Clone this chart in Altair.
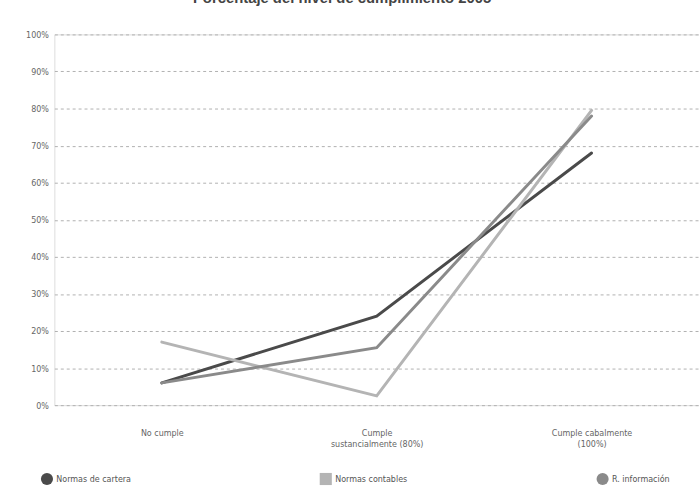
import altair as alt
import pandas as pd

# Compliance levels (x axis) and the share of entities in each level per rule set
niveles = ["No cumple", "Cumple\nsustancialmente (80%)", "Cumple cabalmente\n(100%)"]
series = ["Normas de cartera", "Normas contables", "R. información"]
normas_cartera = [6, 24, 68]
normas_contables = [17, 2.5, 79.5]
r_informacion = [6, 15.5, 78]

colores = ["#4a4a4a", "#b4b4b4", "#8a8a8a"]
formas = ["circle", "square", "circle"]
titulo = "Porcentaje del nivel de cumplimiento 2005"
fuente = "DejaVu Sans Condensed, Liberation Sans, sans-serif"

filas = []
for nombre, valores in zip(series, [normas_cartera, normas_contables, r_informacion]):
    for nivel, v in zip(niveles, valores):
        filas.append({"nivel": nivel, "serie": nombre, "pct": v})
df = pd.DataFrame(filas)

x = alt.X(
    "nivel:N",
    sort=niveles,
    scale=alt.Scale(type="point", padding=0.5),
    axis=alt.Axis(
        title=None,
        domain=False,
        ticks=False,
        grid=False,
        labelAngle=0,
        labelExpr="split(datum.label, '\\n')",
        labelFont=fuente,
        labelFontSize=9,
        labelColor="#666666",
        labelPadding=24,
        labelLineHeight=11,
    ),
)
y = alt.Y(
    "pct:Q",
    scale=alt.Scale(domain=[0, 100], nice=False),
    axis=alt.Axis(
        title=None,
        values=list(range(0, 101, 10)),
        labelExpr="datum.value + '%'",
        domain=False,
        ticks=False,
        grid=True,
        gridDash=[3, 3],
        gridColor="#b0b0b0",
        gridWidth=1,
        labelFont=fuente,
        labelFontSize=9,
        labelColor="#666666",
        labelPadding=6,
    ),
)
color = alt.Color(
    "serie:N",
    sort=series,
    scale=alt.Scale(domain=series, range=colores),
    legend=alt.Legend(
        title=None,
        orient="none",
        direction="horizontal",
        legendX=-14,
        legendY=443,
        columnPadding=190,
        symbolSize=150,
        symbolOpacity=1,
        symbolStrokeWidth=0,
        labelFont=fuente,
        labelFontSize=9,
        labelColor="#555555",
        labelOffset=3,
    ),
)
shape = alt.Shape(
    "serie:N",
    sort=series,
    scale=alt.Scale(domain=series, range=formas),
    legend=None,
)

lineas = alt.Chart(df).mark_line(strokeWidth=3, strokeCap="round").encode(
    x=x, y=y, color=color
)
puntos = alt.Chart(df).mark_point(filled=True, opacity=0, size=10).encode(
    x=x, y=y, color=color, shape=shape
)

cabecera = alt.Chart(pd.DataFrame({"t": [titulo]})).mark_text(
    fontSize=15, fontWeight="bold", color="#444444", font="Liberation Sans"
).encode(text="t:N", x=alt.value(291), y=alt.value(-37))

chart = (
    alt.layer(lineas, puntos, cabecera)
    .properties(
        width=652,
        height=375,
        autosize=alt.AutoSizeParams(type="none"),
        padding={"left": 55, "top": 32, "right": 0, "bottom": 81},
    )
    .configure_view(stroke=None)
    .configure(background="#ffffff")
)

chart.save("out.html", embed_options={"renderer": "svg", "actions": False})
